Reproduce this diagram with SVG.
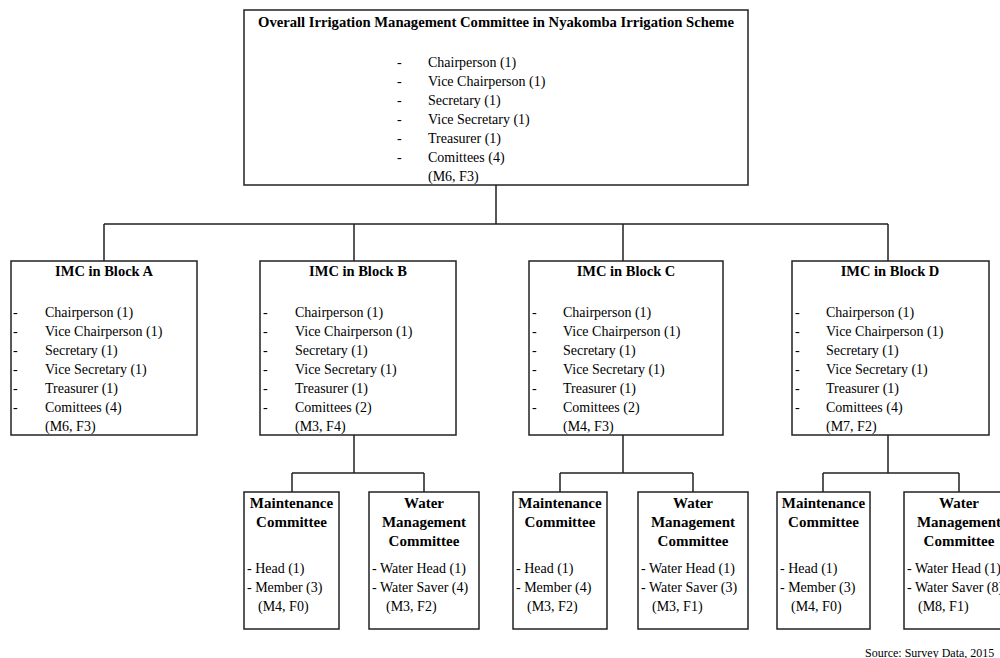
<svg xmlns="http://www.w3.org/2000/svg" width="1000" height="658" viewBox="0 0 1000 658">
  <style>
    .box { fill: #ffffff; stroke: #222222; stroke-width: 1.5; }
    .link { fill: none; stroke: #222222; stroke-width: 1.5; }
    text { font-family: "Liberation Serif", "Times New Roman", serif; font-size: 14px; fill: #000000; }
    .title { font-weight: bold; text-anchor: middle; font-size: 14.5px; }
    .sub { font-size: 15px; }
    .src { font-size: 12px; }
  </style>
  <rect width="1000" height="658" fill="#ffffff"/>

  <!-- connectors -->
  <g id="connectors">
    <path class="link" d="M496 185 V224 M104 224 H888 M104 224 V261 M354 224 V261 M623 224 V261 M888 224 V261"/>
    <path class="link" d="M354 435 V473 M292 473 H424 M292 473 V492 M424 473 V492"/>
    <path class="link" d="M623 435 V473 M560 473 H693 M560 473 V492 M693 473 V492"/>
    <path class="link" d="M888 435 V473 M823 473 H959 M823 473 V492 M959 473 V492"/>
  </g>

  <!-- overall committee -->
  <g id="overall">
    <rect class="box" x="244" y="10" width="504" height="175"/>
    <text class="title" x="496" y="27" textLength="476" lengthAdjust="spacingAndGlyphs">Overall Irrigation Management Committee in Nyakomba Irrigation Scheme</text>
    <text x="397" y="67">-</text><text x="428" y="67">Chairperson (1)</text>
    <text x="397" y="86">-</text><text x="428" y="86">Vice Chairperson (1)</text>
    <text x="397" y="105">-</text><text x="428" y="105">Secretary (1)</text>
    <text x="397" y="124">-</text><text x="428" y="124">Vice Secretary (1)</text>
    <text x="397" y="143">-</text><text x="428" y="143">Treasurer (1)</text>
    <text x="397" y="162">-</text><text x="428" y="162">Comittees (4)</text>
    <text x="428" y="181">(M6, F3)</text>
  </g>

  <!-- block committees -->
  <g id="block-a">
    <rect class="box" x="11" y="261" width="186" height="174"/>
    <text class="title" x="104" y="276">IMC in Block A</text>
    <text x="13" y="317">-</text><text x="45" y="317">Chairperson (1)</text>
    <text x="13" y="336">-</text><text x="45" y="336">Vice Chairperson (1)</text>
    <text x="13" y="355">-</text><text x="45" y="355">Secretary (1)</text>
    <text x="13" y="374">-</text><text x="45" y="374">Vice Secretary (1)</text>
    <text x="13" y="393">-</text><text x="45" y="393">Treasurer (1)</text>
    <text x="13" y="412">-</text><text x="45" y="412">Comittees (4)</text>
    <text x="45" y="431">(M6, F3)</text>
  </g>

  <g id="block-b">
    <rect class="box" x="260" y="261" width="196" height="174"/>
    <text class="title" x="358" y="276">IMC in Block B</text>
    <text x="263" y="317">-</text><text x="295" y="317">Chairperson (1)</text>
    <text x="263" y="336">-</text><text x="295" y="336">Vice Chairperson (1)</text>
    <text x="263" y="355">-</text><text x="295" y="355">Secretary (1)</text>
    <text x="263" y="374">-</text><text x="295" y="374">Vice Secretary (1)</text>
    <text x="263" y="393">-</text><text x="295" y="393">Treasurer (1)</text>
    <text x="263" y="412">-</text><text x="295" y="412">Comittees (2)</text>
    <text x="295" y="431">(M3, F4)</text>
  </g>

  <g id="block-c">
    <rect class="box" x="529" y="261" width="194" height="174"/>
    <text class="title" x="626" y="276">IMC in Block C</text>
    <text x="532" y="317">-</text><text x="563" y="317">Chairperson (1)</text>
    <text x="532" y="336">-</text><text x="563" y="336">Vice Chairperson (1)</text>
    <text x="532" y="355">-</text><text x="563" y="355">Secretary (1)</text>
    <text x="532" y="374">-</text><text x="563" y="374">Vice Secretary (1)</text>
    <text x="532" y="393">-</text><text x="563" y="393">Treasurer (1)</text>
    <text x="532" y="412">-</text><text x="563" y="412">Comittees (2)</text>
    <text x="563" y="431">(M4, F3)</text>
  </g>

  <g id="block-d">
    <rect class="box" x="792" y="261" width="197" height="174"/>
    <text class="title" x="890" y="276">IMC in Block D</text>
    <text x="795" y="317">-</text><text x="826" y="317">Chairperson (1)</text>
    <text x="795" y="336">-</text><text x="826" y="336">Vice Chairperson (1)</text>
    <text x="795" y="355">-</text><text x="826" y="355">Secretary (1)</text>
    <text x="795" y="374">-</text><text x="826" y="374">Vice Secretary (1)</text>
    <text x="795" y="393">-</text><text x="826" y="393">Treasurer (1)</text>
    <text x="795" y="412">-</text><text x="826" y="412">Comittees (4)</text>
    <text x="826" y="431">(M7, F2)</text>
  </g>

  <!-- sub-committees -->
  <g id="maint-b">
    <rect class="box" x="244" y="492" width="95" height="137"/>
    <text class="title sub" x="291.5" y="508">Maintenance</text>
    <text class="title sub" x="291.5" y="527">Committee</text>
    <text x="247" y="573">- Head (1)</text>
    <text x="247" y="592">- Member (3)</text>
    <text x="258" y="611">(M4, F0)</text>
  </g>
  <g id="water-b">
    <rect class="box" x="369" y="492" width="110" height="137"/>
    <text class="title sub" x="424" y="508">Water</text>
    <text class="title sub" x="424" y="527">Management</text>
    <text class="title sub" x="424" y="546">Committee</text>
    <text x="372" y="573">- Water Head (1)</text>
    <text x="372" y="592">- Water Saver (4)</text>
    <text x="386" y="611">(M3, F2)</text>
  </g>

  <g id="maint-c">
    <rect class="box" x="513" y="492" width="94" height="137"/>
    <text class="title sub" x="560" y="508">Maintenance</text>
    <text class="title sub" x="560" y="527">Committee</text>
    <text x="516" y="573">- Head (1)</text>
    <text x="516" y="592">- Member (4)</text>
    <text x="527" y="611">(M3, F2)</text>
  </g>
  <g id="water-c">
    <rect class="box" x="638" y="492" width="110" height="137"/>
    <text class="title sub" x="693" y="508">Water</text>
    <text class="title sub" x="693" y="527">Management</text>
    <text class="title sub" x="693" y="546">Committee</text>
    <text x="641" y="573">- Water Head (1)</text>
    <text x="641" y="592">- Water Saver (3)</text>
    <text x="652" y="611">(M3, F1)</text>
  </g>

  <g id="maint-d">
    <rect class="box" x="777" y="492" width="93" height="137"/>
    <text class="title sub" x="823.5" y="508">Maintenance</text>
    <text class="title sub" x="823.5" y="527">Committee</text>
    <text x="780" y="573">- Head (1)</text>
    <text x="780" y="592">- Member (3)</text>
    <text x="791" y="611">(M4, F0)</text>
  </g>
  <g id="water-d">
    <rect class="box" x="904" y="492" width="110" height="137"/>
    <text class="title sub" x="959" y="508">Water</text>
    <text class="title sub" x="959" y="527">Management</text>
    <text class="title sub" x="959" y="546">Committee</text>
    <text x="907" y="573">- Water Head (1)</text>
    <text x="907" y="592">- Water Saver (8)</text>
    <text x="918" y="611">(M8, F1)</text>
  </g>

  <text class="src" x="865" y="657">Source: Survey Data, 2015</text>
</svg>
